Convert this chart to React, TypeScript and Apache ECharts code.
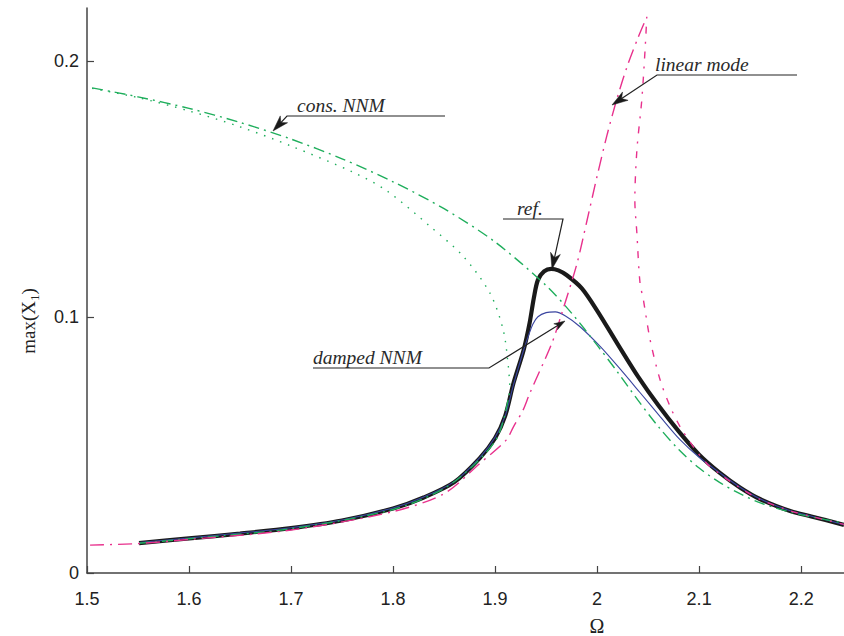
import React, { useEffect, useRef } from "react";
import * as echarts from "echarts";

// ---- data (Omega, max(X1)) ----
const refCurve: [number, number][] = [
  [1.551, 0.0117], [1.6, 0.0135], [1.65, 0.0154], [1.7, 0.0175], [1.75, 0.0205],
  [1.8, 0.0252], [1.83, 0.0295], [1.86, 0.0355], [1.885, 0.0449], [1.9, 0.0527],
  [1.91, 0.0615], [1.918, 0.0741], [1.928, 0.0871], [1.934, 0.098], [1.938, 0.1075],
  [1.942, 0.1145], [1.948, 0.1178], [1.955, 0.1188], [1.962, 0.1182], [1.97, 0.1164],
  [1.985, 0.1112], [2.0, 0.1025], [2.02, 0.0895], [2.04, 0.0768], [2.06, 0.0655],
  [2.08, 0.0553], [2.1, 0.0462], [2.12, 0.0392], [2.14, 0.0334], [2.16, 0.0288],
  [2.19, 0.0241], [2.21, 0.0221], [2.242, 0.0188],
];

const dampedNNM: [number, number][] = [
  [1.551, 0.0119], [1.6, 0.0137], [1.65, 0.0156], [1.7, 0.0177], [1.75, 0.0207],
  [1.8, 0.0254], [1.83, 0.0297], [1.86, 0.0357], [1.885, 0.0451], [1.9, 0.053],
  [1.91, 0.0615], [1.918, 0.0735], [1.928, 0.0871], [1.933, 0.093], [1.937, 0.0972],
  [1.942, 0.1001], [1.95, 0.1017], [1.959, 0.102], [1.969, 0.1004], [1.983, 0.0963],
  [2.003, 0.0885], [2.0225, 0.0797], [2.042, 0.0705], [2.062, 0.061], [2.081, 0.0522],
  [2.1, 0.0452], [2.12, 0.0392], [2.14, 0.0335], [2.16, 0.0289], [2.19, 0.0242],
  [2.21, 0.0222], [2.242, 0.0189],
];

const consUpper: [number, number][] = [
  [1.505, 0.1895], [1.55, 0.186], [1.6, 0.1815], [1.65, 0.176], [1.7, 0.1695],
  [1.75, 0.1618], [1.8, 0.1528], [1.85, 0.1423], [1.9, 0.1293], [1.95, 0.1123],
  [1.975, 0.1015], [2.0, 0.089], [2.02, 0.0785], [2.04, 0.0675], [2.06, 0.0572],
  [2.08, 0.0482], [2.1, 0.041], [2.12, 0.0354], [2.14, 0.031], [2.16, 0.0274],
  [2.19, 0.0237], [2.21, 0.0219], [2.242, 0.0195],
];

const consUnstable: [number, number][] = [
  [1.505, 0.1893], [1.55, 0.1857], [1.6, 0.1805], [1.65, 0.1743], [1.7, 0.1668],
  [1.761, 0.1565], [1.7935, 0.1494], [1.836, 0.1355], [1.869, 0.1236], [1.895, 0.1093],
  [1.908, 0.0949], [1.913, 0.0806], [1.9147, 0.0715],
];

const consLower: [number, number][] = [
  [1.551, 0.0116], [1.6, 0.0134], [1.7, 0.0173], [1.8, 0.0248], [1.85, 0.033],
  [1.88, 0.0425], [1.9, 0.0515], [1.9078, 0.059], [1.9147, 0.0715],
];

const linearLower: [number, number][] = [
  [1.503, 0.0109], [1.55, 0.0115], [1.6, 0.0131], [1.7, 0.0168], [1.8, 0.024],
  [1.85, 0.031], [1.885, 0.0428], [1.911, 0.052], [1.918, 0.0571], [1.9275, 0.0637],
  [1.934, 0.0702], [1.9556, 0.0897], [1.965, 0.101], [1.98, 0.1205], [1.99, 0.1375],
  [2.0, 0.155], [2.01, 0.1715], [2.02, 0.186], [2.03, 0.1985], [2.04, 0.209],
  [2.048, 0.2165],
];

const linearUpper: [number, number][] = [
  [2.0487, 0.2173], [2.047, 0.2043], [2.0438, 0.1848], [2.039, 0.1652], [2.037, 0.1457],
  [2.039, 0.1327], [2.042, 0.1135], [2.0454, 0.1066], [2.052, 0.091], [2.0618, 0.0754],
  [2.0716, 0.065], [2.0814, 0.0571], [2.0944, 0.0493], [2.1075, 0.0428], [2.124, 0.0376],
  [2.14, 0.0333], [2.16, 0.0287], [2.19, 0.0242], [2.21, 0.0221], [2.242, 0.019],
];

const X_MIN = 1.5;
const X_MAX = 2.242;
const Y_MIN = 0;
const Y_MAX = 0.2207;

const SERIF = '"Liberation Serif", "Times New Roman", serif';
const SANS = '"Liberation Sans", Arial, sans-serif';

function arrowHead(fx: number, fy: number, tx: number, ty: number, L: number, W: number) {
  const dx = tx - fx, dy = ty - fy;
  const d = Math.hypot(dx, dy);
  const ux = dx / d, uy = dy / d;
  const bx = tx - ux * L, by = ty - uy * L;
  const nx = -uy, ny = ux;
  return [
    [tx, ty],
    [bx + (nx * W) / 2, by + (ny * W) / 2],
    [tx - ux * L * 0.72, ty - uy * L * 0.72],
    [bx - (nx * W) / 2, by - (ny * W) / 2],
  ];
}

function annotation(label: string, textX: number, lineY: number, pts: number[][], head: { L: number; W: number }) {
  const n = pts.length;
  const tip = pts[n - 1];
  const from = pts[n - 2];
  const dx = tip[0] - from[0], dy = tip[1] - from[1];
  const d = Math.hypot(dx, dy);
  const stop = [tip[0] - (dx / d) * head.L * 0.7, tip[1] - (dy / d) * head.L * 0.7];
  const linePts = pts.slice(0, n - 1).concat([stop]);
  return [
    {
      type: "polyline",
      z: 100,
      shape: { points: linePts },
      style: { stroke: "#222", lineWidth: 1.2, fill: null },
      silent: true,
    },
    {
      type: "polygon",
      z: 100,
      shape: { points: arrowHead(from[0], from[1], tip[0], tip[1], head.L, head.W) },
      style: { fill: "#1a1a1a", stroke: "#1a1a1a", lineWidth: 0.5 },
      silent: true,
    },
    {
      type: "text",
      z: 100,
      x: textX,
      y: lineY - 1,
      style: {
        text: label,
        font: `italic 19.5px ${SERIF}`,
        fill: "#2a2a2a",
        align: "left",
        verticalAlign: "bottom",
      },
      silent: true,
    },
  ];
}

export default function App() {
  const ref = useRef<HTMLDivElement>(null);

  useEffect(() => {
    if (!ref.current) return;
    const chart = echarts.init(ref.current, undefined, { renderer: "svg" });

    const line = (data: [number, number][], color: string, width: number, dash: any, z: number) => ({
      type: "line",
      data,
      showSymbol: false,
      symbol: "none",
      smooth: 0.3,
      z,
      lineStyle: { color, width, type: dash, cap: "butt" },
      emphasis: { disabled: true },
      silent: true,
    });

    const graphics: any[] = [
      ...annotation("cons. NNM", 297, 116, [[445, 116], [287, 116], [273, 131]], { L: 16, W: 10 }),
      ...annotation("linear mode", 655, 75, [[797, 75], [657, 75], [612, 105]], { L: 16, W: 10 }),
      ...annotation("ref.", 517, 219, [[503, 219], [563, 219], [552, 269]], { L: 16, W: 10 }),
      ...annotation("damped NNM", 313, 368, [[313, 368], [489, 368], [565, 321]], { L: 11, W: 7 }),
      {
        type: "text",
        z: 100,
        x: 28,
        y: 321,
        rotation: Math.PI / 2,
        style: {
          text: "{a|max(X}{b|1}{a|)}",
          align: "center",
          verticalAlign: "middle",
          fill: "#222",
          rich: {
            a: { fontFamily: SERIF, fontSize: 19, fill: "#222", color: "#222" },
            b: { fontFamily: SERIF, fontSize: 13, fill: "#222", color: "#222", padding: [12, 0, 0, 0] },
          },
        },
        silent: true,
      },
      {
        type: "text",
        z: 100,
        x: 597,
        y: 626,
        style: {
          text: "Ω",
          font: `20px ${SERIF}`,
          fill: "#222",
          align: "center",
          verticalAlign: "middle",
        },
        silent: true,
      },
    ];

    chart.setOption({
      animation: false,
      backgroundColor: "#ffffff",
      grid: { left: 87, right: 0, top: 8, bottom: 63, containLabel: false },
      xAxis: {
        type: "value",
        min: X_MIN,
        max: X_MAX,
        interval: 0.1,
        axisLine: { show: true, onZero: false, lineStyle: { color: "#444", width: 1.5 } },
        axisTick: { show: true, inside: true, length: 7, lineStyle: { color: "#444", width: 1.2 } },
        axisLabel: {
          show: true,
          margin: 17,
          showMaxLabel: false,
          fontFamily: SANS,
          fontSize: 18,
          color: "#222",
          formatter: (v: number) => String(Math.round(v * 10) / 10),
        },
        splitLine: { show: false },
      },
      yAxis: {
        type: "value",
        min: Y_MIN,
        max: Y_MAX,
        interval: 0.1,
        axisLine: { show: true, onZero: false, lineStyle: { color: "#444", width: 1.5 } },
        axisTick: { show: true, inside: true, length: 7, lineStyle: { color: "#444", width: 1.2 } },
        axisLabel: {
          show: true,
          margin: 8,
          showMaxLabel: false,
          fontFamily: SANS,
          fontSize: 18,
          color: "#222",
          formatter: (v: number) => String(Math.round(v * 10) / 10),
        },
        splitLine: { show: false },
      },
      series: [
        line(refCurve, "#1a1a1a", 4.2, "solid", 2),
        line(dampedNNM, "#3a45a0", 1.1, "solid", 3),
        line(consUpper, "#1fae5c", 1.4, [11, 5, 2, 5], 4),
        line(consUnstable, "#1fae5c", 1.4, [1.5, 7], 4),
        line(consLower, "#1fae5c", 1.4, [11, 5, 2, 5], 4),
        line(linearLower, "#e8318d", 1.4, [14, 6, 2, 6], 5),
        line(linearUpper, "#e8318d", 1.4, [2, 8, 7, 8], 5),
      ],
      graphic: graphics,
    });

    return () => chart.dispose();
  }, []);

  return (
    <div
      ref={ref}
      style={{ position: "absolute", left: 0, top: 0, width: 844, height: 636, background: "#fff" }}
    />
  );
}
